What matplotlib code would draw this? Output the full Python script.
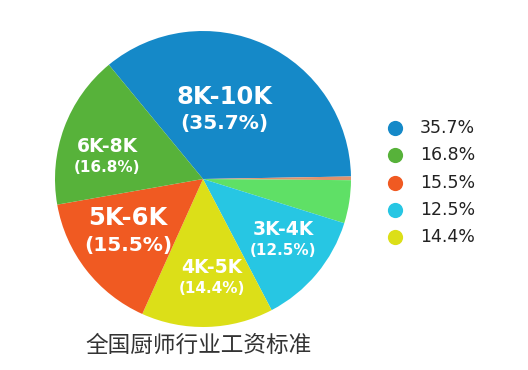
import matplotlib
matplotlib.use("Agg")
import matplotlib.pyplot as plt

# ---- data ----
categories = ["8K-10K", "3K-4K", "4K-5K", "5K-6K", "6K-8K"]
values = [35.7, 12.5, 14.4, 15.5, 16.8]
colors = ["#1589c8", "#27c6e3", "#dcdf18", "#f05a22", "#57b23a"]
# small unlabeled remainder slices (visible in the picture)
extra_values = [0.4, 4.7]
extra_colors = ["#e0926e", "#5fe066"]
legend_order = [0, 4, 3, 1, 2]  # legend lists 35.7, 16.8, 15.5, 12.5, 14.4
title = "全国厨师行业工资标准"

# ---- layout ----
W, H = 528, 370
fig = plt.figure(figsize=(W / 100, H / 100), dpi=100)
ax = fig.add_axes([0, 0, 1, 1])
cx, cy, R = 203, H - 179, 148

pie_vals = [values[0]] + extra_values + values[1:]
pie_cols = [colors[0]] + extra_colors + colors[1:]
ax.pie(pie_vals, colors=pie_cols, startangle=129.5, counterclock=False,
       center=(cx, cy), radius=R, wedgeprops=dict(linewidth=0))

ax.set_xlim(0, W)
ax.set_ylim(0, H)
ax.set_aspect("equal")
ax.axis("off")

# label anchors in pie-radius units, plus styling per label
label_pos = [(0.142, 0.463), (0.541, -0.412), (0.061, -0.669),
             (-0.507, -0.355), (-0.649, 0.149)]
big = [True, False, False, True, False]
lab_font = ["DejaVu Sans"]
for (fx, fy), cat, v, b in zip(label_pos, categories, values, big):
    x, y = cx + fx * R, cy + fy * R
    gap = 13.5 if b else 10.5
    ax.text(x, y + gap, cat, ha="center", va="center", color="white",
            fontsize=17.5 if b else 13.5, fontweight="bold", family=lab_font)
    ax.text(x, y - gap, f"({v}%)", ha="center", va="center", color="white",
            fontsize=14.5 if b else 11, fontweight="bold", family=lab_font)

# legend
for k, i in enumerate(legend_order):
    y = H - 128 - 27.25 * k
    ax.scatter([395], [y], s=120, color=colors[i], linewidths=0)
    ax.text(420, y, f"{values[i]}%", ha="left", va="center", color="#222222",
            fontsize=12.5, family=["DejaVu Sans"])

ax.text(198.5, H - 345, title, ha="center", va="center", color="#333333",
        fontsize=16.3, family=["Noto Sans CJK SC", "DejaVu Sans"])

fig.savefig("out.png", dpi=100)
